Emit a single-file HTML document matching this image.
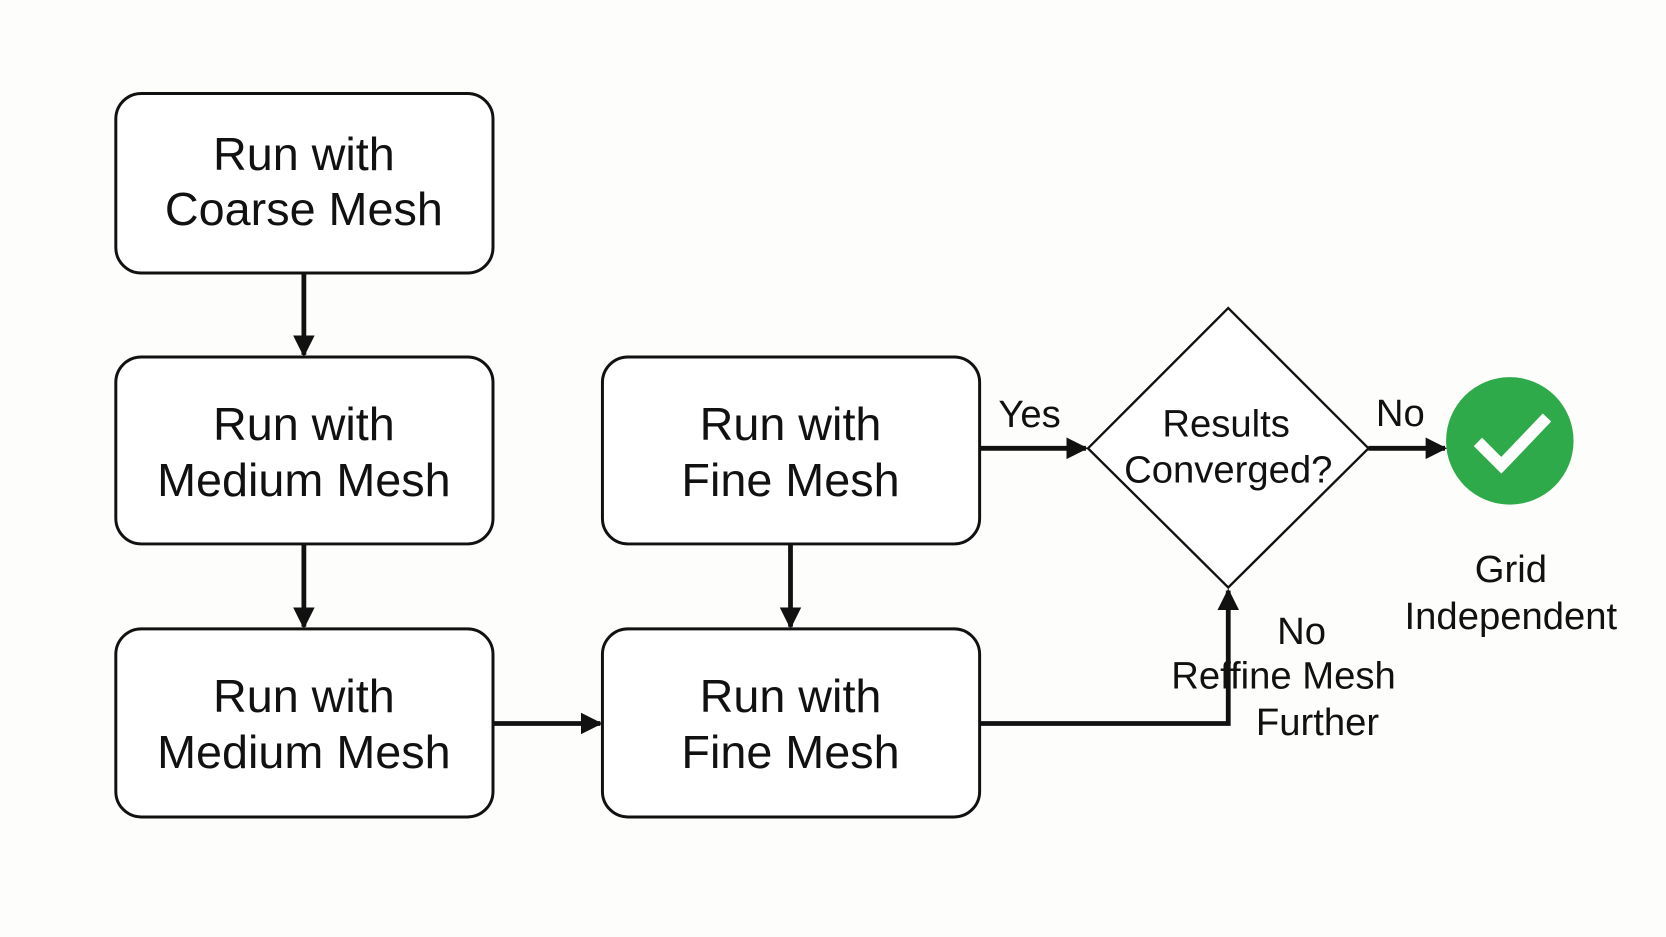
<!DOCTYPE html>
<html><head><meta charset="utf-8"><style>
html,body{margin:0;padding:0;background:#fdfdfb;}
svg{display:block;}
text{font-family:"Liberation Sans",sans-serif;fill:#111;text-anchor:middle;}
</style></head><body>
<svg width="1666" height="937" viewBox="0 0 1568 882" preserveAspectRatio="none" xmlns="http://www.w3.org/2000/svg">
<rect width="1568" height="882" fill="#fdfdfb"/>
<defs><marker id="a" viewBox="0 0 10 10" refX="9" refY="5" markerWidth="4.5" markerHeight="4.5" orient="auto" markerUnits="strokeWidth"><path d="M0,0 L10,5 L0,10 z" fill="#111"/></marker></defs>
<g fill="#fff" stroke="#111" stroke-width="2.8">
<rect x="109" y="88" width="355" height="169" rx="24"/>
<rect x="109" y="336" width="355" height="176" rx="24"/>
<rect x="109" y="592" width="355" height="177" rx="24"/>
<rect x="567" y="336" width="355" height="176" rx="24"/>
<rect x="567" y="592" width="355" height="177" rx="24"/>
<path d="M1156,290 L1288,422 L1156,553 L1024,422 Z" stroke-width="2.2"/>
</g>
<g stroke="#111" stroke-width="4.5" fill="none">
<line x1="286" y1="257" x2="286" y2="334" marker-end="url(#a)"/>
<line x1="286" y1="512" x2="286" y2="590" marker-end="url(#a)"/>
<line x1="744" y1="512" x2="744" y2="590" marker-end="url(#a)"/>
<line x1="464" y1="681" x2="565" y2="681" marker-end="url(#a)"/>
<line x1="922" y1="422" x2="1022" y2="422" marker-end="url(#a)"/>
<line x1="1288" y1="422" x2="1360" y2="422" marker-end="url(#a)"/>
<polyline points="922,681 1156,681 1156,556" marker-end="url(#a)"/>
</g>
<circle cx="1421" cy="415" r="60" fill="#2eaa4a"/>
<polyline points="1391,416 1413,438 1456,393" fill="none" stroke="#fff" stroke-width="11"/>
<g font-size="44">
<text x="286" y="160">Run with</text><text x="286" y="212">Coarse Mesh</text>
<text x="286" y="414">Run with</text><text x="286" y="467">Medium Mesh</text>
<text x="286" y="670">Run with</text><text x="286" y="723">Medium Mesh</text>
<text x="744" y="414">Run with</text><text x="744" y="467">Fine Mesh</text>
<text x="744" y="670">Run with</text><text x="744" y="723">Fine Mesh</text>
</g>
<g font-size="36">
<text x="1154" y="411">Results</text><text x="1156" y="454">Converged?</text>
<text x="969" y="402">Yes</text><text x="1318" y="401">No</text>
<text x="1225" y="606">No</text><text x="1208" y="648">Reffine Mesh</text><text x="1240" y="692">Further</text>
<text x="1422" y="548">Grid</text><text x="1422" y="592">Independent</text>
</g>
</svg>
</body></html>
